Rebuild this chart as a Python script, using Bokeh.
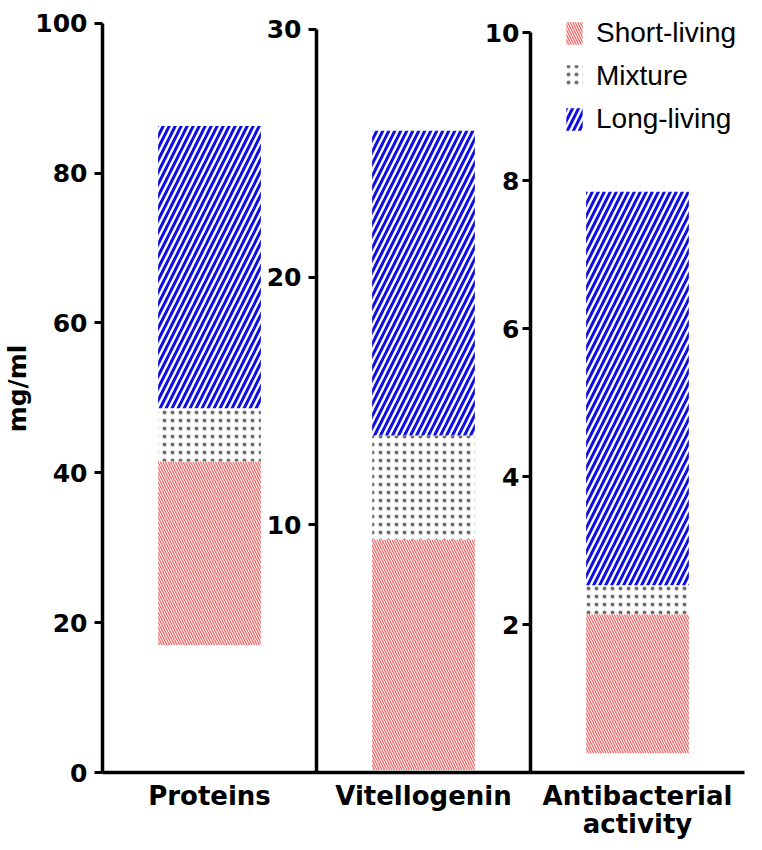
from bokeh.plotting import figure
from bokeh.models import FactorRange, Range1d, LinearAxis, FixedTicker, Legend, LegendItem
from bokeh.embed import file_html
from bokeh.resources import INLINE

# ---- data ----
categories = ["Proteins", "Vitellogenin", "Antibacterial\nactivity"]
series = ["Short-living", "Mixture", "Long-living"]
short_bottom = [17.0, 0.1, 0.26]
short_top = [41.5, 9.4, 2.14]
mixture_top = [48.6, 13.6, 2.53]
long_top = [86.3, 25.9, 7.85]

proteins_ticks = [0, 20, 40, 60, 80, 100]
vitellogenin_ticks = [10, 20, 30]
antibacterial_ticks = [2, 4, 6, 8, 10]
y_label = "mg/ml"

# ---- styling ----
FONT = "DejaVu Sans"
TICK_FS = "25px"
hatch = {
    "Short-living": dict(hatch_pattern="\\", hatch_color="#f06868", hatch_scale=5, hatch_weight=1.3),
    "Mixture": dict(hatch_pattern=".", hatch_color="#707070", hatch_scale=8, hatch_weight=2.4),
    "Long-living": dict(hatch_pattern="/", hatch_color="#0d0de6", hatch_scale=12, hatch_weight=3.0),
}

p = figure(width=746, height=842, x_range=FactorRange(*categories),
           y_range=Range1d(0, 102.5), output_backend="svg", toolbar_location=None,
           min_border_left=98, min_border_right=2, min_border_top=4, min_border_bottom=0)
p.extra_y_ranges = {"vit": Range1d(0, 31.0), "anti": Range1d(0, 10.38)}
p.outline_line_color = None
p.xgrid.visible = False
p.ygrid.visible = False


def style_axis(ax, standoff=7):
    ax.axis_line_width = 3.5
    ax.axis_line_color = "black"
    ax.major_tick_line_width = 3
    ax.major_tick_out = 8
    ax.major_tick_in = 0
    ax.minor_tick_line_color = None
    ax.major_label_text_font = FONT
    ax.major_label_text_font_style = "bold"
    ax.major_label_text_font_size = TICK_FS
    ax.major_label_text_color = "black"
    ax.major_label_standoff = standoff


# proteins axis (standard left axis)
ya = p.yaxis[0]
ya.ticker = FixedTicker(ticks=proteins_ticks)
ya.bounds = (0, 100)
style_axis(ya)
ya.axis_label = y_label
ya.axis_label_text_font = FONT
ya.axis_label_text_font_style = "bold"
ya.axis_label_text_font_size = "25px"
ya.axis_label_text_color = "black"
ya.axis_label_standoff = 0

ax2 = LinearAxis(y_range_name="vit", fixed_location=1.0,
                 ticker=FixedTicker(ticks=vitellogenin_ticks), bounds=(0, 30))
style_axis(ax2)
p.add_layout(ax2, "left")

ax3 = LinearAxis(y_range_name="anti", fixed_location=2.0,
                 ticker=FixedTicker(ticks=antibacterial_ticks), bounds=(0, 10))
style_axis(ax3, standoff=3)
p.add_layout(ax3, "left")

xa = p.xaxis[0]
xa.axis_line_width = 3.5
xa.axis_line_color = "black"
xa.major_tick_line_color = None
xa.major_tick_out = 0
xa.major_tick_in = 0
xa.major_label_text_font = FONT
xa.major_label_text_font_style = "bold"
xa.major_label_text_font_size = "26px"
xa.major_label_text_color = "black"
xa.major_label_text_line_height = 0.95
xa.major_label_standoff = 8

range_names = ["default", "vit", "anti"]
renderers = {s: [] for s in series}
for i, cat in enumerate(categories):
    segs = [
        ("Short-living", short_bottom[i], short_top[i]),
        ("Mixture", short_top[i], mixture_top[i]),
        ("Long-living", mixture_top[i], long_top[i]),
    ]
    for name, b, t in segs:
        r = p.vbar(x=[cat], bottom=[b], top=[t], width=0.48, y_range_name=range_names[i],
                   fill_color="white", line_color=None, **hatch[name])
        renderers[name].append(r)

legend = Legend(items=[LegendItem(label=s, renderers=renderers[s]) for s in series],
                location=(462, 637))
legend.glyph_width = 20
legend.glyph_height = 28
legend.label_text_font = "Liberation Sans"
legend.label_text_font_size = "28px"
legend.label_text_color = "black"
legend.label_standoff = 12
legend.spacing = 11
legend.padding = 0
legend.margin = 0
legend.border_line_color = None
legend.background_fill_alpha = 0
p.add_layout(legend)

open("out.html", "w").write(file_html(p, INLINE))
